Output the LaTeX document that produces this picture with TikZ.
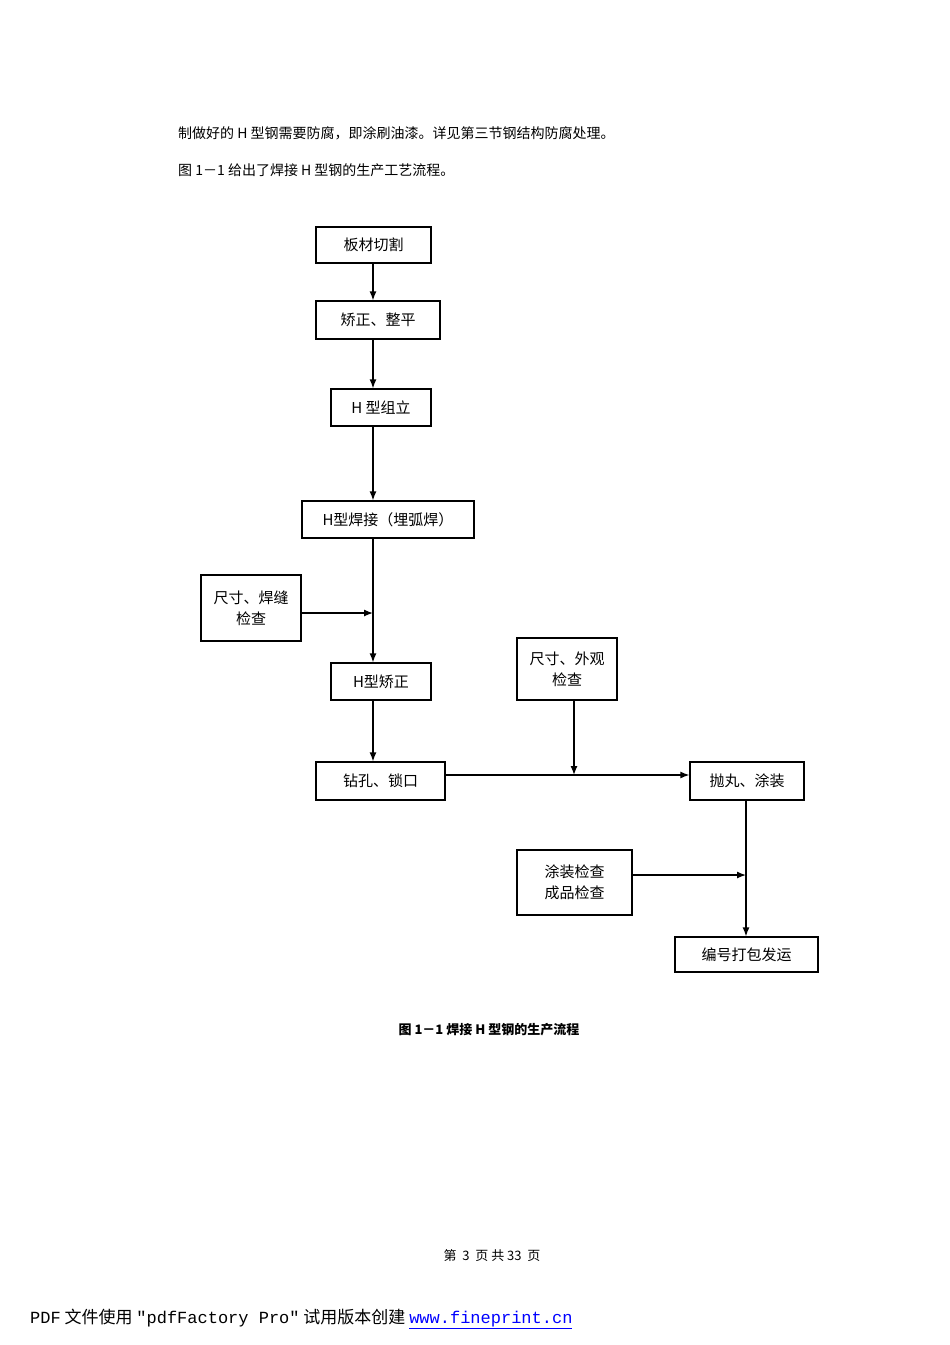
\documentclass[tikz,border=0pt]{standalone}
\usepackage{fontspec}
\usetikzlibrary{arrows.meta}
\setmainfont{Noto Sans CJK SC}
\newfontfamily\monof{Liberation Mono}
\begin{document}
\begin{tikzpicture}[x=1pt,y=-1pt,
 box/.style={draw,line width=1.3pt,inner sep=0pt,align=center,font=\fontsize{15}{21}\selectfont},
 arr/.style={-{Latex[length=9pt,width=7pt]},line width=1.3pt},
 txt/.style={inner sep=0pt,anchor=west,font=\fontsize{14}{16}\selectfont}]
\useasboundingbox (0,0) rectangle (950,1345);
\node[txt] (t1) at (178,133) {制做好的 H 型钢需要防腐，即涂刷油漆。详见第三节钢结构防腐处理。};
\node[txt] (t2) at (178,170) {图 1－1 给出了焊接 H 型钢的生产工艺流程。};
\node[box,minimum width=115,minimum height=36] (a) at (373.5,245) {板材切割};
\node[box,minimum width=124,minimum height=38] (b) at (378,320) {矫正、整平};
\node[box,minimum width=100,minimum height=37] (c) at (381,407.5) {H\ 型组立};
\node[box,minimum width=172,minimum height=37] (d) at (388,519.5) {H型焊接（埋弧焊）};
\node[box,minimum width=100,minimum height=66] (e) at (251,608) {尺寸、焊缝\\检查};
\node[box,minimum width=100,minimum height=37] (f) at (381,681.5) {H型矫正};
\node[box,minimum width=100,minimum height=62] (g) at (567,669) {尺寸、外观\\检查};
\node[box,minimum width=129,minimum height=38] (h) at (380.5,781) {钻孔、锁口};
\node[box,minimum width=114,minimum height=38] (i) at (747,781) {抛丸、涂装};
\node[box,minimum width=115,minimum height=65] (j) at (574.5,882.5) {涂装检查\\成品检查};
\node[box,minimum width=143,minimum height=35] (k) at (746.5,954.5) {编号打包发运};
\coordinate (p1) at (373,613);
\coordinate (p2) at (574,775);
\coordinate (p3) at (746,875);
\draw[arr] (a.south -| 373,0) -- (b.north -| 373,0);
\draw[arr] (b.south -| 373,0) -- (c.north -| 373,0);
\draw[arr] (c.south -| 373,0) -- (d.north -| 373,0);
\draw[arr] (d.south -| 373,0) -- (f.north -| 373,0);
\draw[arr] (e.east |- p1) -- (p1);
\draw[arr] (f.south -| 373,0) -- (h.north -| 373,0);
\draw[arr] (h.east |- 0,775) -- (i.west |- 0,775);
\draw[arr] (g.south -| p2) -- (p2);
\draw[arr] (i.south -| 746,0) -- (k.north -| 746,0);
\draw[arr] (j.east |- p3) -- (p3);
\node[inner sep=0pt,font=\bfseries\fontsize{13}{15}\selectfont] (cap) at (489,1030) {图 1－1 焊接 H 型钢的生产流程};
\node[inner sep=0pt,font=\fontsize{13}{15}\selectfont] (pg) at (492,1256) {第\ \ 3\ \ 页\ 共\ 33\ \ 页};
\node[txt,anchor=west,font=\fontsize{17}{19}\selectfont] (pdf) at (30,1319) {{\monof PDF}\ 文件使用\ {\monof "pdfFactory Pro"}\ 试用版本创建\ \textcolor{blue}{\underline{\monof www.fineprint.cn}}};
\end{tikzpicture}
\end{document}
